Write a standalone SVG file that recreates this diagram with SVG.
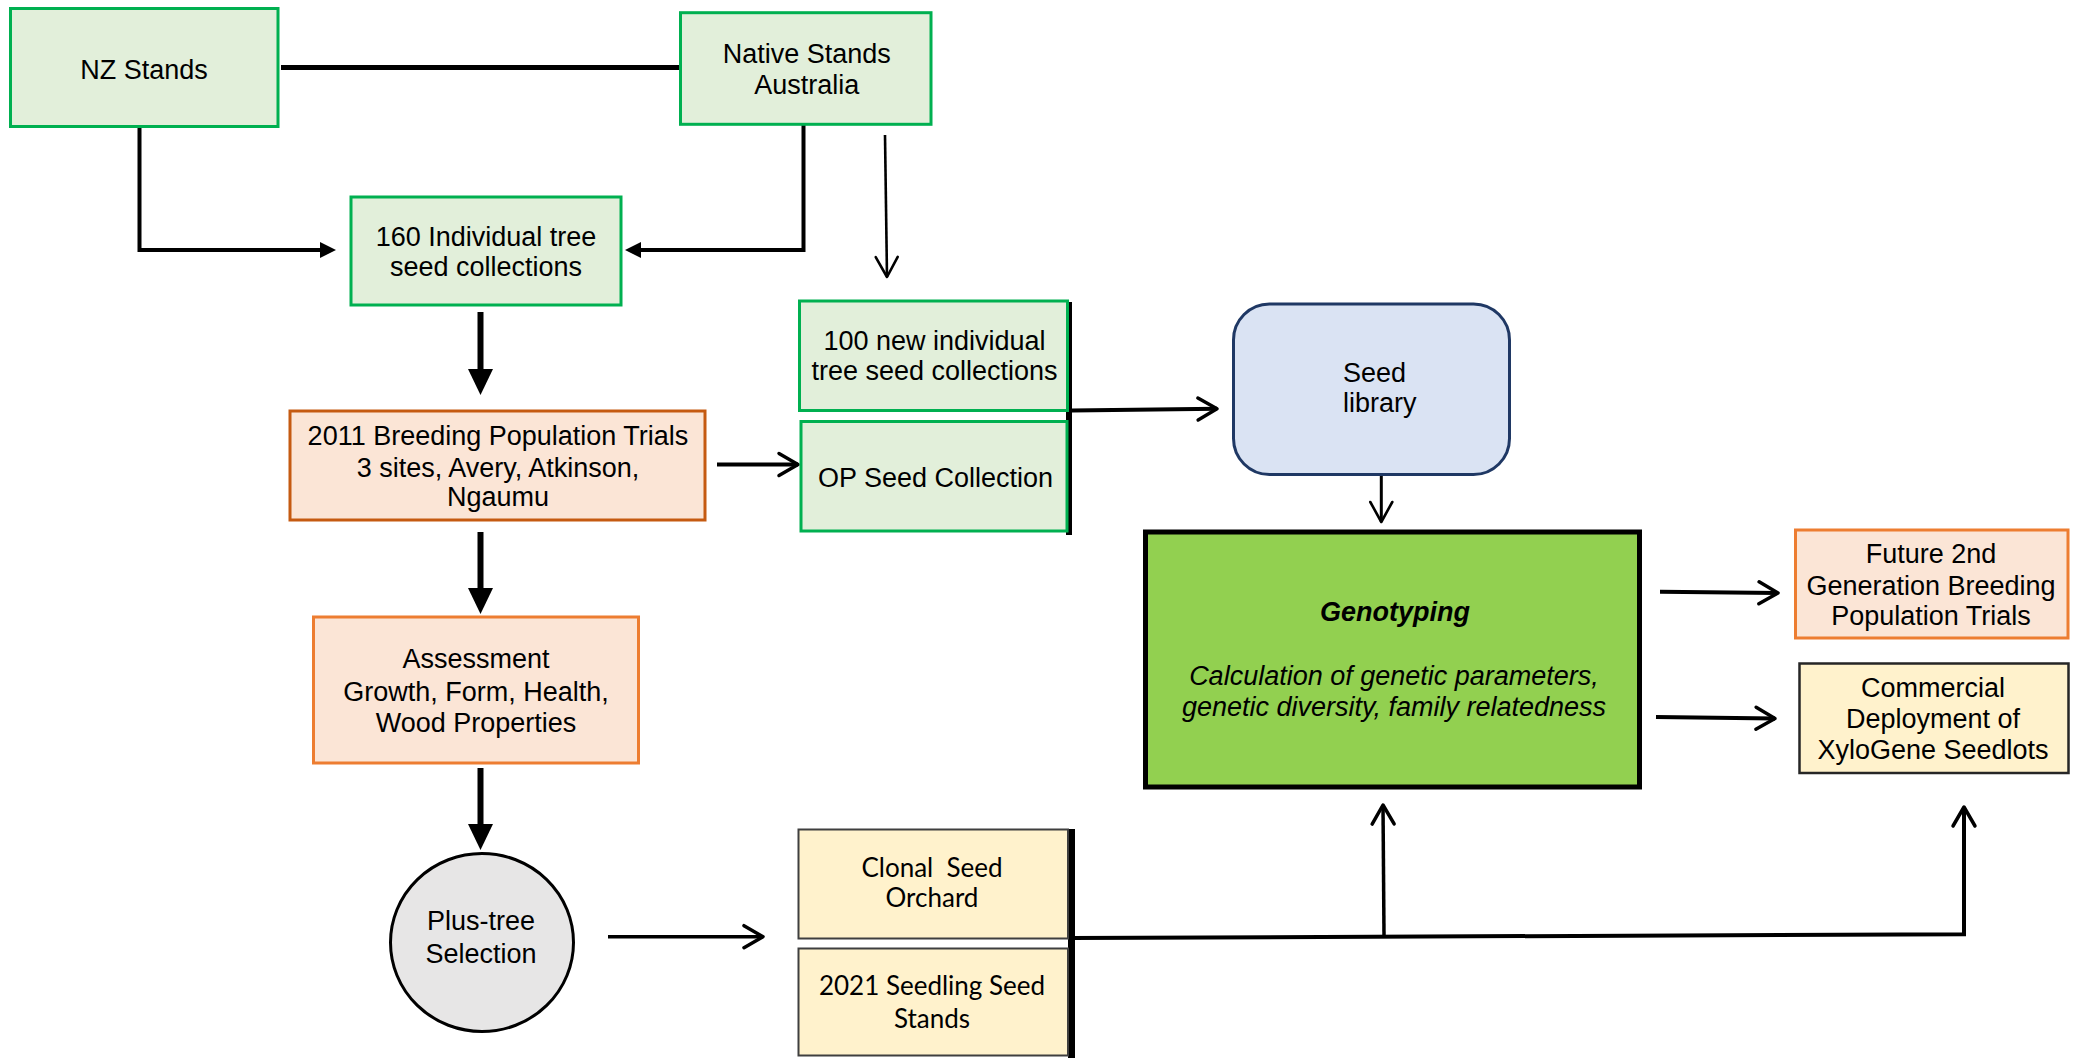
<svg xmlns="http://www.w3.org/2000/svg" width="2076" height="1058" viewBox="0 0 2076 1058">
<style>
text{font-family:"Liberation Sans",Arial,sans-serif;font-size:27px;fill:#000;text-anchor:middle}
.cal{font-family:Lato,"Liberation Sans",sans-serif;font-size:26px}
.green{fill:#E2EFDA;stroke:#00B050;stroke-width:3}
.orange{fill:#FBE5D6;stroke:#ED7D31;stroke-width:3}
.orange2{fill:#FBE5D6;stroke:#C55A11;stroke-width:3}
.yellow{fill:#FFF2CC;stroke:#3F3F3F;stroke-width:2}
.ln{fill:none;stroke:#000;stroke-linecap:butt;stroke-linejoin:miter}
</style>
<defs>
<marker id="triS" markerUnits="userSpaceOnUse" markerWidth="16" markerHeight="16" viewBox="0 0 16 16" refX="6" refY="8" orient="auto"><path d="M0,0 L16,8 L0,16 z" fill="#000"/></marker>
<marker id="triL" markerUnits="userSpaceOnUse" markerWidth="26" markerHeight="25" viewBox="0 0 26 25" refX="8" refY="12.5" orient="auto"><path d="M0,0 L26,12.5 L0,25 z" fill="#000"/></marker>
<marker id="vee" markerUnits="userSpaceOnUse" markerWidth="28" markerHeight="30" viewBox="-3 -4 28 30" refX="21" refY="11" orient="auto"><path d="M2,0 L21,11 L2,22" fill="none" stroke="#000" stroke-width="3.5" stroke-linecap="round" stroke-linejoin="round"/></marker>
<marker id="veeT" markerUnits="userSpaceOnUse" markerWidth="28" markerHeight="30" viewBox="-3 -4 28 30" refX="21" refY="11" orient="auto"><path d="M1,0 L21,11 L1,22" fill="none" stroke="#000" stroke-width="2.6" stroke-linecap="round" stroke-linejoin="round"/></marker>
</defs>

<g id="connectors">
<line class="ln" x1="281" y1="67.5" x2="681" y2="67.5" stroke-width="5"/>
<path class="ln" d="M139.5,127 V250 H326" stroke-width="4" marker-end="url(#triS)"/>
<path class="ln" d="M803.5,125 V250 H635" stroke-width="4" marker-end="url(#triS)"/>
<line class="ln" x1="885" y1="135" x2="887" y2="277" stroke-width="2.6" marker-end="url(#veeT)"/>
<line class="ln" x1="480.5" y1="312" x2="480.5" y2="377" stroke-width="6" marker-end="url(#triL)"/>
<line class="ln" x1="480.5" y1="532" x2="480.5" y2="596" stroke-width="6" marker-end="url(#triL)"/>
<line class="ln" x1="480.5" y1="768" x2="480.5" y2="832" stroke-width="6" marker-end="url(#triL)"/>
<line class="ln" x1="717" y1="464.5" x2="798" y2="464.5" stroke-width="4" marker-end="url(#vee)"/>
<line class="ln" x1="1069" y1="302" x2="1069" y2="535" stroke-width="6"/>
<line class="ln" x1="1072" y1="410.6" x2="1217" y2="408.8" stroke-width="4" marker-end="url(#vee)"/>
<line class="ln" x1="1381.3" y1="474.6" x2="1381.3" y2="522" stroke-width="3" marker-end="url(#veeT)"/>
<line class="ln" x1="1660" y1="591.7" x2="1778" y2="593" stroke-width="4" marker-end="url(#vee)"/>
<line class="ln" x1="1656" y1="717" x2="1775" y2="718.5" stroke-width="4" marker-end="url(#vee)"/>
<line class="ln" x1="608" y1="936.7" x2="763" y2="936.7" stroke-width="3.5" marker-end="url(#vee)"/>
<line class="ln" x1="1071.5" y1="829" x2="1071.5" y2="1058" stroke-width="7"/>
<path class="ln" d="M1072,938 L1964,934.3 V807" stroke-width="4" marker-end="url(#vee)"/>
<line class="ln" x1="1384" y1="936" x2="1383" y2="805" stroke-width="3.5" marker-end="url(#vee)"/>
</g>

<g id="nz-stands">
<rect class="green" x="10.5" y="8.5" width="267.5" height="118"/>
<text x="144" y="78.5">NZ Stands</text>
</g>
<g id="native-stands">
<rect class="green" x="680.5" y="12.7" width="250.5" height="111.6"/>
<text x="806.8" y="62.7">Native Stands</text>
<text x="806.8" y="94">Australia</text>
</g>
<g id="individual-160">
<rect class="green" x="351" y="197" width="270" height="108"/>
<text x="486" y="246">160 Individual tree</text>
<text x="486" y="276">seed collections</text>
</g>
<g id="new-100">
<rect class="green" x="799.5" y="301" width="268" height="109.5"/>
<text x="934.5" y="350">100 new individual</text>
<text x="934.5" y="380">tree seed collections</text>
</g>
<g id="op-seed">
<rect class="green" x="801" y="421.5" width="266" height="109.5"/>
<text x="935.5" y="487.3">OP Seed Collection</text>
</g>
<g id="breeding-2011">
<rect class="orange2" x="290" y="411" width="415" height="109"/>
<text x="498" y="445" font-size="28">2011 Breeding Population Trials</text>
<text x="498" y="476.5">3 sites, Avery, Atkinson,</text>
<text x="498" y="506">Ngaumu</text>
</g>
<g id="assessment">
<rect class="orange" x="313.5" y="617" width="325" height="146"/>
<text x="476" y="668.3">Assessment</text>
<text x="476" y="700.5">Growth, Form, Health,</text>
<text x="476" y="731.7">Wood Properties</text>
</g>
<g id="plus-tree">
<ellipse cx="482" cy="942.5" rx="91.5" ry="89" fill="#E7E6E6" stroke="#000" stroke-width="3"/>
<text x="481" y="930">Plus-tree</text>
<text x="481" y="963">Selection</text>
</g>
<g id="clonal-orchard">
<rect class="yellow" x="798.5" y="829.5" width="269.5" height="109"/>
<text class="cal" x="932" y="876.7" xml:space="preserve">Clonal  Seed</text>
<text class="cal" x="932" y="906.7">Orchard</text>
</g>
<g id="seedling-2021">
<rect class="yellow" x="798.5" y="948.5" width="269.5" height="107"/>
<text class="cal" x="932" y="995">2021 Seedling Seed</text>
<text class="cal" x="932" y="1028.3">Stands</text>
</g>
<g id="seed-library">
<rect x="1233.5" y="304" width="276" height="170.5" rx="36" ry="36" fill="#DAE3F3" stroke="#1F3864" stroke-width="3"/>
<text x="1343" y="381.7" style="text-anchor:start">Seed</text>
<text x="1343" y="412" style="text-anchor:start">library</text>
</g>
<g id="genotyping">
<rect x="1145.5" y="532" width="494" height="255" fill="#92D050" stroke="#000" stroke-width="5"/>
<text x="1395" y="621" font-weight="bold" font-style="italic">Genotyping</text>
<text x="1394" y="685" font-style="italic" font-size="28">Calculation of genetic parameters,</text>
<text x="1394" y="715.5" font-style="italic" font-size="28">genetic diversity, family relatedness</text>
</g>
<g id="future-2nd">
<rect class="orange" x="1795.5" y="530" width="272.5" height="108"/>
<text x="1931" y="562.7">Future 2nd</text>
<text x="1931" y="595">Generation Breeding</text>
<text x="1931" y="625">Population Trials</text>
</g>
<g id="commercial">
<rect x="1799.5" y="663.5" width="269" height="109.5" fill="#FFF2CC" stroke="#262626" stroke-width="2.5"/>
<text x="1933" y="697">Commercial</text>
<text x="1933" y="728">Deployment of</text>
<text x="1933" y="758.5">XyloGene Seedlots</text>
</g>
</svg>
